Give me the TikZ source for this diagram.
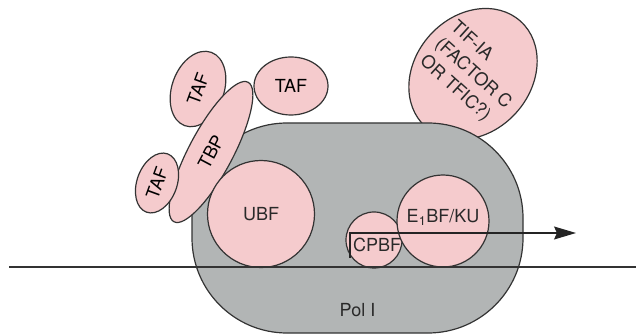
\documentclass[tikz,border=0pt]{standalone}
\usepackage{fontspec}
\setmainfont{TeX Gyre Heros}
\usetikzlibrary{shapes.geometric, arrows.meta, positioning}
\definecolor{FactorPink}{HTML}{F5CBCD}
\definecolor{PolGray}{HTML}{B2B5B5}
\definecolor{InkGray}{HTML}{333333}

\begin{document}
\begin{tikzpicture}[x=1pt, y=-1pt,
  factor/.style={ellipse, draw=InkGray, fill=FactorPink, line width=1.2pt, inner sep=0pt, font=\fontsize{18}{21}\selectfont},
  disc/.style={circle, draw=InkGray, fill=FactorPink, line width=1.2pt, inner sep=0pt},
  lbl/.style={font=\fontsize{18}{21}\selectfont, inner sep=0pt, text=InkGray!80!black},
  polbox/.style={rectangle, rounded corners=95pt, draw=InkGray, fill=PolGray, line width=1.2pt, minimum width=331pt, minimum height=210pt},
  ]
  \useasboundingbox (0,0) rectangle (636,336);

  \node[factor, rotate=-42, minimum width=116pt, minimum height=142pt] (tif) at (473,74) {};
  \node[lbl, rotate=-42, align=left, font=\fontsize{18}{23}\selectfont] (tiftext) at (tif.center) {TIF-IA\\(FACTOR C\\OR TFIC?)};

  \node[polbox] (pol) at (357.5,228) {};
  \node[lbl, above=17pt of pol.south] (polname) {Pol I};

  \node[factor, rotate=70, minimum width=78pt, minimum height=52pt] (tafUL) at (198,89) {TAF};
  \node[factor, rotate=62, minimum width=158pt, minimum height=44pt] (tbp) at (211,152) {TBP};
  \node[factor, rotate=70, minimum width=62pt, minimum height=40pt] (tafLL) at (157,183) {TAF};
  \node[factor, minimum width=74pt, minimum height=58pt] (tafR) at (291,86) {TAF};

  \node[disc, minimum size=107pt, label={[lbl]center:UBF}] (ubf) at (261,214) {};
  \node[disc, minimum size=56pt, label={[lbl, xshift=3pt, yshift=-5pt]center:CPBF}] (cpbf) at (374,240) {};
  \node[disc, minimum size=92pt, label={[lbl, yshift=4pt]center:E\textsubscript{1}BF/KU}] (e1bf) at (443,221) {};

  \coordinate (dnaL) at (9,267);
  \coordinate (dnaR) at (636,267);
  \draw[InkGray, line width=1.4pt] (dnaL) -- (dnaR);

  \coordinate (start) at (350,258);
  \coordinate (tip) at (576,233);
  \draw[InkGray!70!black, line width=1.2pt, -{Stealth[length=22pt, width=13pt, inset=3pt]}] (start) |- (tip);
\end{tikzpicture}
\end{document}
